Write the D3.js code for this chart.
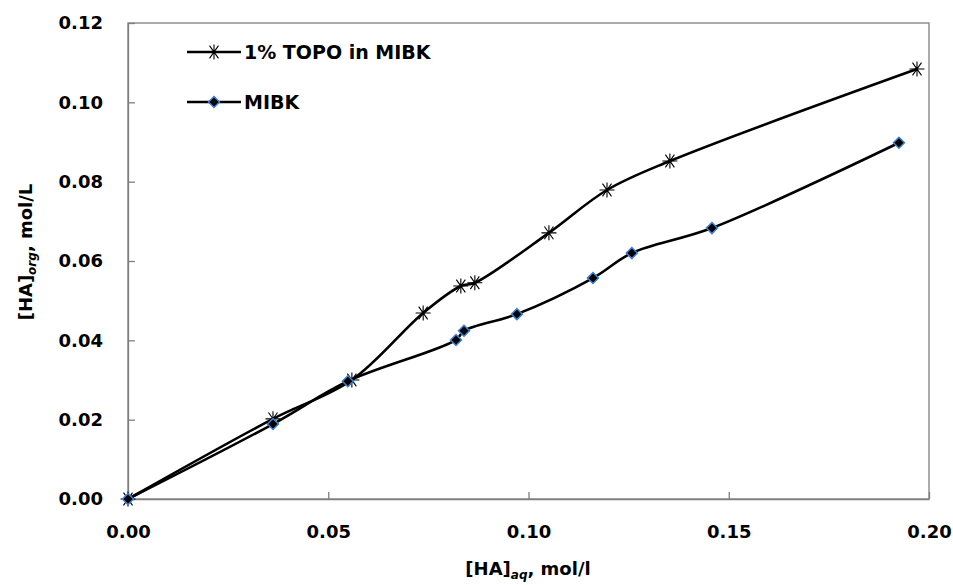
<!DOCTYPE html>
<html>
<head>
<meta charset="utf-8">
<script src="https://cdnjs.cloudflare.com/ajax/libs/d3/7.8.5/d3.min.js"></script>
<style>
  body { margin: 0; background: #fff; }
  text { font-family: "DejaVu Sans", "Liberation Sans", sans-serif; font-weight: bold; fill: #000; }
</style>
</head>
<body>
<div id="chart"></div>
<script>
// data
const topoX = [0, 0.0362, 0.0559, 0.0737, 0.0831, 0.0866, 0.1051, 0.1196, 0.1353, 0.197];
const topoY = [0, 0.0202, 0.0300, 0.0469, 0.0537, 0.0545, 0.0671, 0.0779, 0.0852, 0.1084];
const mibkX = [0, 0.0362, 0.0549, 0.0819, 0.0839, 0.0971, 0.1161, 0.1258, 0.1458, 0.1925];
const mibkY = [0, 0.0189, 0.0297, 0.0401, 0.0424, 0.0466, 0.0557, 0.0620, 0.0683, 0.0898];
const xTicks = [0, 0.05, 0.10, 0.15, 0.20];
const yTicks = [0, 0.02, 0.04, 0.06, 0.08, 0.10, 0.12];
const seriesNames = ["1% TOPO in MIBK", "MIBK"];

const W = 953, H = 585;
const margin = {top: 23, right: 24, bottom: 86, left: 128};

const svg = d3.select("#chart").append("svg")
  .attr("width", W).attr("height", H);

const x = d3.scaleLinear().domain([0, 0.2]).range([margin.left, W - margin.right]);
const y = d3.scaleLinear().domain([0, 0.12]).range([H - margin.bottom, margin.top]);

// frame
svg.append("rect")
  .attr("x", x(0)).attr("y", y(0.12))
  .attr("width", x(0.2) - x(0)).attr("height", y(0) - y(0.12))
  .attr("fill", "none").attr("stroke", "#7f7f7f").attr("stroke-width", 1.3);

// axes with inward ticks
const xAxis = svg.append("g")
  .attr("transform", `translate(0,${y(0)})`)
  .call(d3.axisBottom(x).tickValues(xTicks).tickFormat(d3.format(".2f")).tickSizeInner(-7).tickSizeOuter(0).tickPadding(26));
const yAxis = svg.append("g")
  .attr("transform", `translate(${x(0)},0)`)
  .call(d3.axisLeft(y).tickValues(yTicks).tickFormat(d3.format(".2f")).tickSizeInner(-7).tickSizeOuter(0).tickPadding(25));

[xAxis, yAxis].forEach(g => {
  g.select(".domain").attr("stroke", "#7f7f7f").attr("stroke-width", 1.3);
  g.selectAll(".tick line").attr("stroke", "#7f7f7f").attr("stroke-width", 1.3);
  g.selectAll(".tick text").style("font-size", "18px");
});

// axis titles
const xt = svg.append("text")
  .attr("x", 528).attr("y", 575)
  .attr("text-anchor", "middle").style("font-size", "18px");
xt.append("tspan").text("[HA]");
xt.append("tspan").attr("dy", 4).style("font-size", "12px").style("font-style", "italic").text("aq");
xt.append("tspan").attr("dy", -4).text(", mol/l");

const yt = svg.append("text")
  .attr("transform", `translate(32,${252}) rotate(-90)`)
  .attr("text-anchor", "middle").style("font-size", "18px");
yt.append("tspan").text("[HA]");
yt.append("tspan").attr("dy", 4).style("font-size", "12px").style("font-style", "italic").text("org");
yt.append("tspan").attr("dy", -4).text(", mol/L");

const line = d3.line().x(d => x(d[0])).y(d => y(d[1])).curve(d3.curveCatmullRom.alpha(0.5));

const topo = topoX.map((v, i) => [v, topoY[i]]);
const mibk = mibkX.map((v, i) => [v, mibkY[i]]);

const star = (g, cx, cy) => {
  const r = 7.5;
  g.append("path")
    .attr("d", `M${cx - r},${cy}H${cx + r}` +
      `M${cx - r * 0.6},${cy - r * 0.85}L${cx + r * 0.6},${cy + r * 0.85}` +
      `M${cx - r * 0.6},${cy + r * 0.85}L${cx + r * 0.6},${cy - r * 0.85}` +
      `M${cx},${cy - r}V${cy + r}`)
    .attr("stroke", "#000").attr("stroke-width", 1.1).attr("fill", "none");
};
const diamond = (g, cx, cy) => {
  const r = 5.5;
  g.append("path")
    .attr("d", `M${cx},${cy - r}L${cx + r},${cy}L${cx},${cy + r}L${cx - r},${cy}Z`)
    .attr("fill", "#000").attr("stroke", "#3f7fd0").attr("stroke-width", 1.5);
};

svg.append("path").datum(mibk).attr("d", line)
  .attr("fill", "none").attr("stroke", "#000").attr("stroke-width", 2.6);
svg.append("path").datum(topo).attr("d", line)
  .attr("fill", "none").attr("stroke", "#000").attr("stroke-width", 2.6);

const marks = svg.append("g");
topo.forEach(d => star(marks, x(d[0]), y(d[1])));
mibk.forEach(d => diamond(marks, x(d[0]), y(d[1])));

// legend
const leg = svg.append("g");
[[52, star], [102, diamond]].forEach(([ly, fn], i) => {
  leg.append("line").attr("x1", 187).attr("x2", 241).attr("y1", ly).attr("y2", ly)
    .attr("stroke", "#000").attr("stroke-width", 2.6);
  fn(leg, 214, ly);
  leg.append("text").attr("x", 244).attr("y", ly + 7).style("font-size", "19px").text(seriesNames[i]);
});
</script>
</body>
</html>
